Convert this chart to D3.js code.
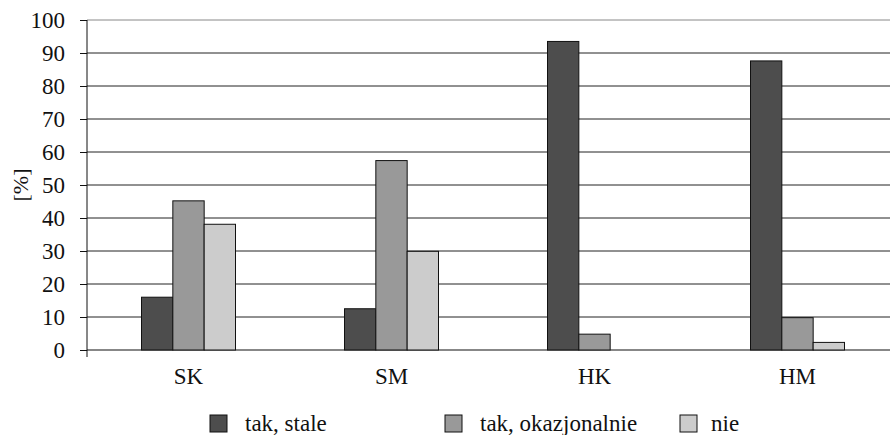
<!DOCTYPE html>
<html>
<head>
<meta charset="utf-8">
<script src="https://cdn.jsdelivr.net/npm/d3@7"></script>
<style>
  body { margin: 0; background: #fff; }
  .serif { font-family: 'Liberation Serif', 'DejaVu Serif', serif; }
</style>
</head>
<body>
<svg id="chart" width="890" height="435"></svg>
<script>
// data
var categories = ["SK", "SM", "HK", "HM"];
var seriesNames = ["tak, stale", "tak, okazjonalnie", "nie"];
var stale = [16, 12.5, 93.5, 87.6];
var okazjonalnie = [45.2, 57.4, 4.8, 9.8];
var nie = [38.1, 29.9, 0, 2.3];
var yTicks = [0, 10, 20, 30, 40, 50, 60, 70, 80, 90, 100];

var colors = ["#4d4d4d", "#999999", "#cccccc"];
var seriesValues = [stale, okazjonalnie, nie];

var svg = d3.select("svg#chart"),
    margin = {top: 20, left: 87, bottom: 85},
    height = +svg.attr("height") - margin.top - margin.bottom;

var x0 = d3.scaleBand()
  .domain(categories)
  .range([margin.left, margin.left + 812]);

var x1 = d3.scaleBand()
  .domain(seriesNames)
  .range([0, 94]);

var y = d3.scaleLinear()
  .domain([0, 100])
  .range([margin.top + height, margin.top]);

// gridlines
svg.append("g")
  .selectAll("line")
  .data(yTicks.slice(1))
  .enter().append("line")
    .attr("x1", margin.left)
    .attr("x2", 890)
    .attr("y1", function(d) { return y(d); })
    .attr("y2", function(d) { return y(d); })
    .attr("stroke", function(d) { return d === 100 ? "#888" : "#222"; })
    .attr("stroke-width", 1);

// y axis
var yAxis = svg.append("g")
  .attr("transform", "translate(" + margin.left + ",0)")
  .call(d3.axisLeft(y).tickValues(yTicks).tickSize(7).tickPadding(15));
yAxis.attr("font-family", null).attr("font-size", null);
yAxis.select(".domain").attr("stroke", "#111").attr("d", "M0," + y(100) + "V" + (y(0) + 7));
yAxis.selectAll(".tick line").attr("stroke", "#111");
yAxis.selectAll(".tick text")
  .attr("class", "serif")
  .style("font-size", "23px")
  .attr("fill", "#111");

// baseline
svg.append("line")
  .attr("x1", margin.left)
  .attr("x2", 890)
  .attr("y1", y(0))
  .attr("y2", y(0))
  .attr("stroke", "#111")
  .attr("stroke-width", 1.2);

// bars
var groups = svg.append("g")
  .selectAll("g")
  .data(categories)
  .enter().append("g")
    .attr("transform", function(d) {
      return "translate(" + (x0(d) + (x0.bandwidth() - 94) / 2) + ",0)";
    });

groups.selectAll("rect")
  .data(function(d, i) {
    return seriesNames.map(function(s, j) { return {name: s, value: seriesValues[j][i], j: j}; })
      .filter(function(e) { return e.value > 0; });
  })
  .enter().append("rect")
    .attr("x", function(d) { return x1(d.name); })
    .attr("y", function(d) { return y(d.value); })
    .attr("width", x1.bandwidth())
    .attr("height", function(d) { return y(0) - y(d.value); })
    .attr("fill", function(d) { return colors[d.j]; })
    .attr("stroke", "#111")
    .attr("stroke-width", 1);

// category labels
svg.append("g")
  .selectAll("text")
  .data(categories)
  .enter().append("text")
    .attr("class", "serif")
    .attr("x", function(d) { return x0(d) + x0.bandwidth() / 2; })
    .attr("y", 384)
    .attr("text-anchor", "middle")
    .style("font-size", "23px")
    .attr("fill", "#111")
    .text(function(d) { return d; });

// y label
svg.append("text")
  .attr("class", "serif")
  .attr("transform", "translate(28," + ((y(0) + y(100)) / 2) + ") rotate(-90)")
  .attr("text-anchor", "middle")
  .style("font-size", "22px")
  .attr("fill", "#111")
  .text("[%]");

// legend
var legendX = [210, 445, 680];
var legend = svg.append("g")
  .selectAll("g")
  .data(seriesNames)
  .enter().append("g")
    .attr("transform", function(d, i) { return "translate(" + legendX[i] + ",415)"; });

legend.append("rect")
  .attr("width", 17)
  .attr("height", 17)
  .attr("fill", function(d, i) { return colors[i]; })
  .attr("stroke", "#111")
  .attr("stroke-width", 1);

legend.append("text")
  .attr("class", "serif")
  .attr("x", function(d, i) { return i === 2 ? 31 : 35; })
  .attr("y", 16)
  .style("font-size", "23px")
  .attr("fill", "#111")
  .text(function(d) { return d; });
</script>
</body>
</html>
